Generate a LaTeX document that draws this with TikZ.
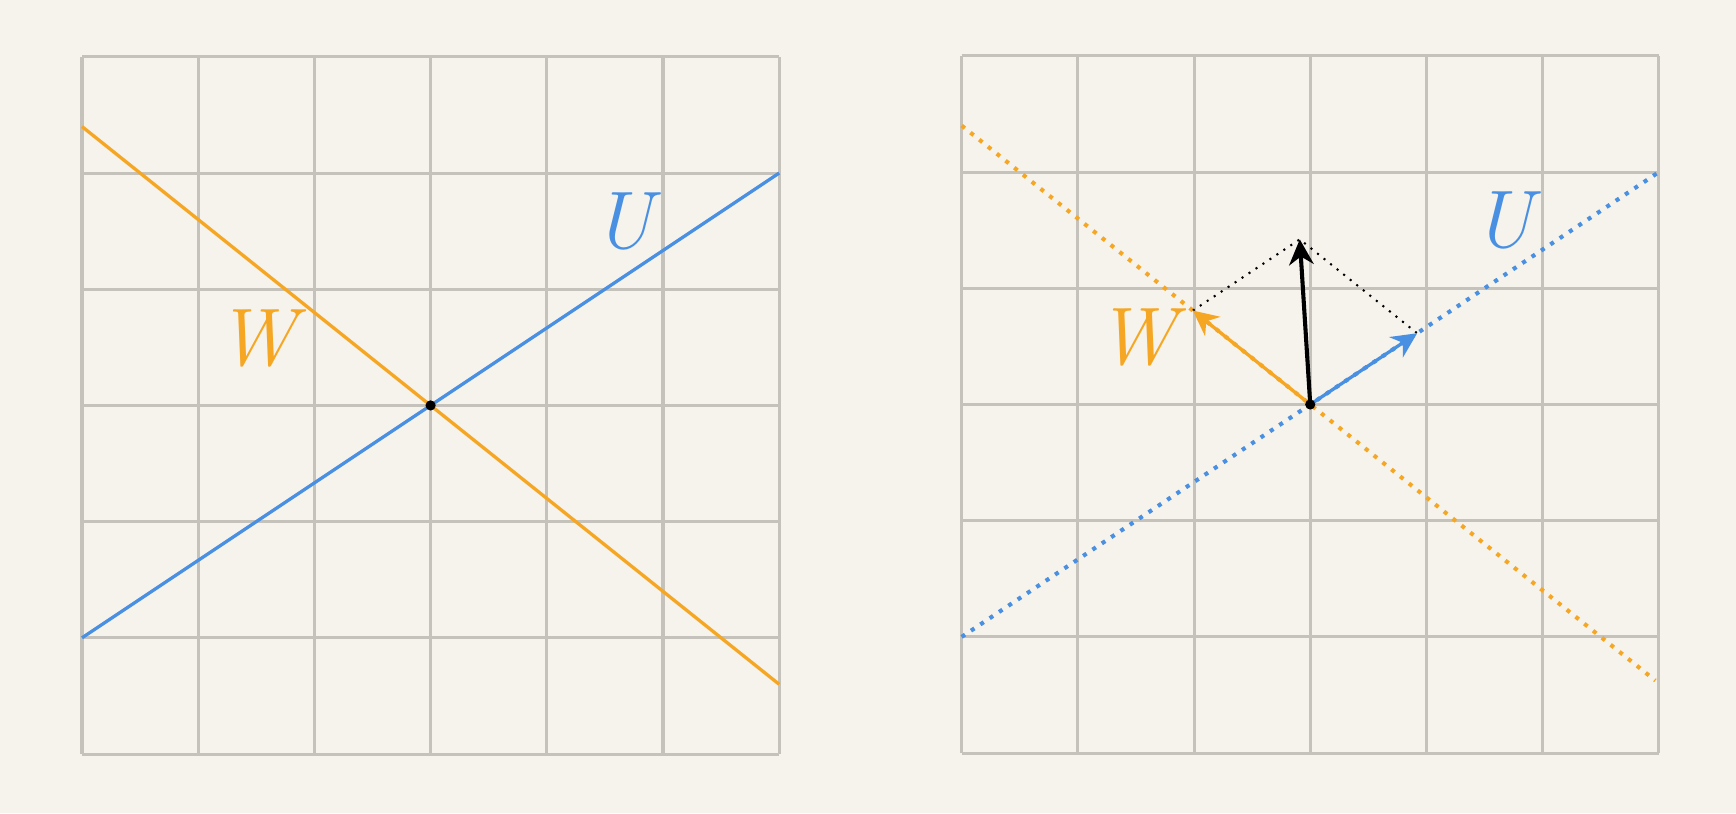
\documentclass[tikz,border=0pt]{standalone}
\usepackage{fontspec}
\usetikzlibrary{arrows.meta}
\definecolor{bg}{HTML}{F5F3EC}
\definecolor{gridc}{HTML}{C4C2BB}
\definecolor{orng}{HTML}{F5A623}
\definecolor{blu}{HTML}{4A90E2}
\begin{document}
\begin{tikzpicture}[x=1cm,y=1cm,
  gridline/.style={draw=gridc,line width=0.75pt},
  wline/.style={draw=orng,line width=0.8pt},
  uline/.style={draw=blu,line width=0.8pt},
  wdots/.style={draw=orng,line width=1pt,dash pattern=on 1pt off 1.75pt},
  udots/.style={draw=blu,line width=1pt,dash pattern=on 1pt off 1.75pt},
  pdots/.style={draw=black,line width=0.5pt,dash pattern=on 0.5pt off 1.55pt},
  tipstyle/.style={-{Stealth[length=6.2pt,width=6pt,inset=2pt]}},
  lab/.style={inner sep=0pt,font=\fontsize{20}{24}\selectfont\itshape}]
\fill[bg] (0,0) rectangle (14.94,6.997);
\useasboundingbox (0,0) rectangle (14.94,6.997);
% left panel
\begin{scope}[shift={(0.7057,0.5077)}]
  \draw[gridline] (0,0) grid (6,6);
  \coordinate (LWa) at (0,5.4);
  \coordinate (LWb) at (6,0.6);
  \coordinate (LUa) at (0,1);
  \coordinate (LUb) at (6,5);
  \draw[wline] (LWa) -- (LWb);
  \draw[uline] (LUa) -- (LUb);
  \fill (3,3) circle (1.25pt);
  \node[lab,text=blu] (LU) at (4.66,4.58) {U};
  \node[lab,text=orng] (LW) at (1.5,3.58) {W};
\end{scope}
% right panel
\begin{scope}[shift={(8.276,0.516)}]
  \draw[gridline] (0,0) grid (6,6);
  \coordinate (RWa) at (0,5.4);
  \coordinate (RWb) at (5.97,0.624);
  \coordinate (RUa) at (0,1);
  \coordinate (RUb) at (6,5);
  \coordinate (RO) at (3,3);
  \coordinate (Ru) at (3.92,3.613);
  \coordinate (Rw) at (1.99,3.808);
  \coordinate (Rv) at (2.91,4.421);
  \draw[wdots] (RWa) -- (RWb);
  \draw[udots] (RUa) -- (RUb);
  \draw[pdots] (Rw) -- (Rv) -- (Ru);
  \draw[wline,tipstyle] (RO) -- (Rw);
  \draw[uline,tipstyle] (RO) -- (Ru);
  \draw[line width=1pt,tipstyle] (RO) -- (Rv);
  \fill (RO) circle (1.25pt);
  \node[lab,text=blu] (RU) at (4.66,4.58) {U};
  \node[lab,text=orng] (RW) at (1.5,3.58) {W};
\end{scope}
\end{tikzpicture}
\end{document}
